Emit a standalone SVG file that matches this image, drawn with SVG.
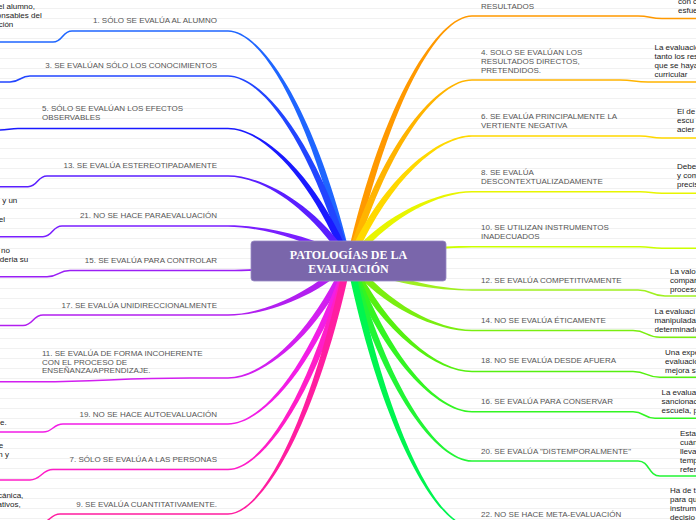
<svg xmlns="http://www.w3.org/2000/svg" width="696" height="520" viewBox="0 0 696 520">
<defs>
<pattern id="grid" width="696" height="10" patternUnits="userSpaceOnUse"><line x1="0" y1="8.5" x2="696" y2="8.5" stroke="#f1f1f1" stroke-width="1"/></pattern>
</defs>
<style>
.lbl{font-family:"Liberation Sans",Arial,sans-serif;font-size:8px;fill:#555}
.leaf{font-family:"Liberation Sans",Arial,sans-serif;font-size:8px;fill:#222}
.end{text-anchor:end}
.ln{fill:none;stroke-width:1.5}
.title{font-family:"Liberation Serif","Times New Roman",serif;font-size:12px;font-weight:bold;fill:#fff;text-anchor:middle}
</style>
<rect width="696" height="520" fill="#fff"/>
<rect width="696" height="520" fill="url(#grid)"/>
<g id="connectors">
<path fill="#1f66ff" d="M228,30.25 C261.6,30.25 316.6,110.7 351.4,260.2 L344.6,261.8 C309.8,112.3 261.6,31.75 228,31.75Z"/>
<path class="ln" stroke="#1f66ff" d="M228,31 L72,31 C62,31 63,42 53,42 L0,42"/>
<path fill="#2245ff" d="M228,75.25 C261.6,75.25 316.6,139.8 351.4,260 L344.6,262 C309.8,141.7 261.6,76.75 228,76.75Z"/>
<path class="ln" stroke="#2245ff" d="M228,76 L30,76 C20,76 20,82 10,82 L0,82"/>
<path fill="#1a1aff" d="M228,127.75 C261.6,127.75 316.4,173.6 351.2,259.7 L344.8,262.3 C310,176.2 261.6,129.25 228,129.25Z"/>
<path class="ln" stroke="#1a1aff" d="M228,128.5 L18,128.5 C10,128.5 8,130 0,130"/>
<path fill="#5a1fff" d="M228,175.25 C261.6,175.25 316.2,203.9 351,259.1 L345,262.9 C310.2,207.6 261.6,176.75 228,176.75Z"/>
<path class="ln" stroke="#5a1fff" d="M228,176 L47,176 C37,176 38,186.7 28,186.7 L0,186.7"/>
<path fill="#7a1fff" d="M228,225.25 C261.6,225.25 315.1,235.3 349.9,258.1 L346.1,263.9 C311.3,241.2 261.6,226.75 228,226.75Z"/>
<path class="ln" stroke="#7a1fff" d="M228,226 L62,226 C52,226 53,236.7 43,236.7 L0,236.7"/>
<path fill="#9a1ff5" d="M228,269.75 C261.6,269.75 312.6,263.75 347.4,257.55 L348.6,264.45 C313.8,270.65 261.6,271.25 228,271.25Z"/>
<path class="ln" stroke="#9a1ff5" d="M228,270.5 L70,270.5 C58,270.5 59,276.7 47,276.7 L0,276.7"/>
<path fill="#b21ff0" d="M228,314.25 C261.6,314.25 310.7,293.6 345.5,258.5 L350.5,263.5 C315.7,298.6 261.6,315.75 228,315.75Z"/>
<path class="ln" stroke="#b21ff0" d="M228,315 L43,315 C33,315 33,325.5 23,325.5 L0,325.5"/>
<path fill="#d21ff0" d="M228,377.25 C261.6,377.25 310,335.6 344.8,259.5 L351.2,262.5 C316.4,338.5 261.6,378.75 228,378.75Z"/>
<path class="ln" stroke="#d21ff0" d="M228,378 L190,378 C120,378 100,381.7 40,381.7 L0,381.7"/>
<path fill="#f21ee6" d="M228,423.25 C261.6,423.25 309.9,365.9 344.7,259.9 L351.3,262.1 C316.5,368 261.6,424.75 228,424.75Z"/>
<path class="ln" stroke="#f21ee6" d="M228,424 L63,424 C53,424 53,432 43,432 L0,432"/>
<path fill="#ff1ec8" d="M228,468.75 C261.6,468.75 309.8,395.6 344.6,260.1 L351.4,261.9 C316.6,397.4 261.6,470.25 228,470.25Z"/>
<path class="ln" stroke="#ff1ec8" d="M228,469.5 L53,469.5 C42,469.5 41,480 30,480 L0,480"/>
<path fill="#ff1ea0" d="M228,513.25 C261.6,513.25 309.8,424.7 344.6,260.3 L351.4,261.7 C316.6,426.2 261.6,514.75 228,514.75Z"/>
<path class="ln" stroke="#ff1ea0" d="M228,514 L60,514 C50,514 50,523 40,523 L0,523"/>

<path fill="#ff9900" d="M472,16.75 C437.8,16.75 388.8,102.5 353.4,261.8 L346.6,260.2 C382,101 437.8,15.25 472,15.25Z"/>
<path class="ln" stroke="#ff9900" d="M472,16 L638,16 C650,16 650,18.5 662,18.5 L696,18.5"/>
<path fill="#ffb400" d="M472,80.75 C437.8,80.75 388.75,144.4 353.35,262 L346.65,260 C382.05,142.3 437.8,79.25 472,79.25Z"/>
<path class="ln" stroke="#ffb400" d="M472,80 L620,80 C634,80 634,82 648,82 L696,82"/>
<path fill="#ffd800" d="M472,136.75 C437.8,136.75 388.6,181.15 353.2,262.4 L346.8,259.6 C382.2,178.35 437.8,135.25 472,135.25Z"/>
<path class="ln" stroke="#ffd800" d="M472,136 L640,136 C651,136 651,138 662,138 L696,138"/>
<path fill="#e8f500" d="M472,192.45 C437.8,192.45 388.15,218.1 352.75,263.2 L347.25,258.8 C382.65,213.8 437.8,190.95 472,190.95Z"/>
<path class="ln" stroke="#e8f500" d="M472,191.7 L640,191.7 C651,191.7 651,193.3 662,193.3 L696,193.3"/>
<path fill="#ccff00" d="M472,247.45 C437.8,247.45 386.3,255.1 350.9,264.4 L349.1,257.6 C384.5,248.3 437.8,245.95 472,245.95Z"/>
<path class="ln" stroke="#ccff00" d="M472,246.7 L640,246.7 C651,246.7 651,248.3 662,248.3 L696,248.3"/>
<path fill="#a0f020" d="M472,290.75 C437.8,290.75 383.75,282.9 348.35,264.1 L351.65,257.9 C387.05,276.8 437.8,289.25 472,289.25Z"/>
<path class="ln" stroke="#a0f020" d="M472,290 L638,290 C652,290 651,296 665,296 L696,296"/>
<path fill="#7aee10" d="M472,331.25 C437.8,331.25 382.6,308.4 347.2,263.2 L352.8,258.8 C388.2,304 437.8,329.75 472,329.75Z"/>
<path class="ln" stroke="#7aee10" d="M472,330.5 L633,330.5 C647,330.5 646,337.3 660,337.3 L696,337.3"/>
<path fill="#55f010" d="M472,372.25 C437.8,372.25 382.3,334.35 346.9,262.55 L353.1,259.45 C388.5,331.25 437.8,370.75 472,370.75Z"/>
<path class="ln" stroke="#55f010" d="M472,371.5 L633,371.5 C647,371.5 646,377.3 660,377.3 L696,377.3"/>
<path fill="#33f522" d="M472,412.45 C437.8,412.45 382.1,360.1 346.7,262.2 L353.3,259.8 C388.7,357.8 437.8,410.95 472,410.95Z"/>
<path class="ln" stroke="#33f522" d="M472,411.7 L633,411.7 C644,411.7 644,418.3 655,418.3 L696,418.3"/>
<path fill="#22f535" d="M472,461.75 C437.8,461.75 382,391.9 346.6,261.9 L353.4,260.1 C388.8,390.1 437.8,460.25 472,460.25Z"/>
<path class="ln" stroke="#22f535" d="M472,461 L638,461 C650,461 648,476 660,476 L696,476"/>
<path fill="#00f550" d="M472,527.75 C437.8,527.75 382,434.6 346.6,261.7 L353.4,260.3 C388.8,433.2 437.8,526.25 472,526.25Z"/>
<path class="ln" stroke="#00f550" d="M472,527 L696,527"/>
</g>

<g id="node-center">
<rect x="251" y="241" width="195" height="40" rx="3" fill="#7a66ab" stroke="#9a8cc6" stroke-width="0.8"/>
<text class="title" x="348.5" y="258.5">PATOLOGÍAS DE LA</text>
<text class="title" x="348.5" y="272.5">EVALUACIÓN</text>
</g>

<g id="node-1"><text class="lbl end" x="217" y="23">1. SÓLO SE EVALÚA AL ALUMNO</text></g>
<g id="node-3"><text class="lbl end" x="217" y="68">3. SE EVALÚAN SÓLO LOS CONOCIMIENTOS</text></g>
<g id="node-5"><text class="lbl" x="42" y="111">5. SÓLO SE EVALÚAN LOS EFECTOS</text><text class="lbl" x="42" y="120">OBSERVABLES</text></g>
<g id="node-13"><text class="lbl end" x="217" y="168">13. SE EVALÚA ESTEREOTIPADAMENTE</text></g>
<g id="node-21"><text class="lbl end" x="217" y="218">21. NO SE HACE PARAEVALUACIÓN</text></g>
<g id="node-15"><text class="lbl end" x="217" y="263">15. SE EVALÚA PARA CONTROLAR</text></g>
<g id="node-17"><text class="lbl end" x="217" y="307.5">17. SE EVALÚA UNIDIRECCIONALMENTE</text></g>
<g id="node-11"><text class="lbl" x="42" y="355.7">11. SE EVALÚA DE FORMA INCOHERENTE</text><text class="lbl" x="42" y="364.5">CON EL PROCESO DE</text><text class="lbl" x="42" y="373.3">ENSEÑANZA/APRENDIZAJE.</text></g>
<g id="node-19"><text class="lbl end" x="217" y="416.7">19. NO SE HACE AUTOEVALUACIÓN</text></g>
<g id="node-7"><text class="lbl end" x="217" y="461.7">7. SÓLO SE EVALÚA A LAS PERSONAS</text></g>
<g id="node-9"><text class="lbl end" x="217" y="506.7">9. SE EVALÚA CUANTITATIVAMENTE.</text></g>

<g id="leaf-left-1"><text class="leaf end" x="35" y="9">el alumno,</text><text class="leaf end" x="41.7" y="18">onsables del</text><text class="leaf end" x="13.3" y="27">ción</text></g>
<g id="leaf-left-21"><text class="leaf end" x="17.3" y="202.7">y un</text><text class="leaf end" x="5" y="221.7">el</text></g>
<g id="leaf-left-15"><text class="leaf end" x="10" y="253.3">no</text><text class="leaf end" x="28.3" y="261.7">deria su</text></g>
<g id="leaf-left-19"><text class="leaf end" x="6.7" y="425.3">e.</text></g>
<g id="leaf-left-7"><text class="leaf end" x="3.3" y="447.7">e</text><text class="leaf end" x="9" y="456.7">n y</text></g>
<g id="leaf-left-9"><text class="leaf end" x="23.3" y="498.3">cánica,</text><text class="leaf end" x="20.7" y="506.7">ativos,</text></g>

<g id="node-2"><text class="lbl" x="481" y="9">RESULTADOS</text></g>
<g id="node-4"><text class="lbl" x="481" y="55">4. SOLO SE EVALÚAN LOS</text><text class="lbl" x="481" y="64">RESULTADOS DIRECTOS,</text><text class="lbl" x="481" y="73">PRETENDIDOS.</text></g>
<g id="node-6"><text class="lbl" x="481" y="119">6. SE EVALÚA PRINCIPALMENTE LA</text><text class="lbl" x="481" y="128">VERTIENTE NEGATIVA</text></g>
<g id="node-8"><text class="lbl" x="481" y="175">8. SE EVALÚA</text><text class="lbl" x="481" y="184">DESCONTEXTUALIZADAMENTE</text></g>
<g id="node-10"><text class="lbl" x="481" y="230">10. SE UTILIZAN INSTRUMENTOS</text><text class="lbl" x="481" y="239">INADECUADOS</text></g>
<g id="node-12"><text class="lbl" x="481" y="282.7">12. SE EVALÚA COMPETITIVAMENTE</text></g>
<g id="node-14"><text class="lbl" x="481" y="323.3">14. NO SE EVALÚA ÉTICAMENTE</text></g>
<g id="node-18"><text class="lbl" x="481" y="363.3">18. NO SE EVALÚA DESDE AFUERA</text></g>
<g id="node-16"><text class="lbl" x="481" y="404">16. SE EVALÚA PARA CONSERVAR</text></g>
<g id="node-20"><text class="lbl" x="481" y="454">20. SE EVALÚA "DISTEMPORALMENTE"</text></g>
<g id="node-22"><text class="lbl" x="481" y="516.7">22. NO SE HACE META-EVALUACIÓN</text></g>

<g id="leaf-right-2"><text class="leaf" x="678" y="4">con c</text><text class="leaf" x="678" y="12.7">esfue</text></g>
<g id="leaf-right-4"><text class="leaf" x="654.5" y="49.5">La evaluació</text><text class="leaf" x="654.5" y="58.5">tanto los res</text><text class="leaf" x="654.5" y="67.5">que se haya</text><text class="leaf" x="654.5" y="76.5">curricular</text></g>
<g id="leaf-right-6"><text class="leaf" x="677" y="114">El de</text><text class="leaf" x="677" y="123">escu</text><text class="leaf" x="677" y="132">acier</text></g>
<g id="leaf-right-8"><text class="leaf" x="677" y="169">Debe</text><text class="leaf" x="677" y="178">y com</text><text class="leaf" x="677" y="187">precis</text></g>
<g id="leaf-right-12"><text class="leaf" x="670" y="274">La valo</text><text class="leaf" x="670" y="283">compar</text><text class="leaf" x="670" y="292">proceso</text></g>
<g id="leaf-right-14"><text class="leaf" x="654.5" y="314">La evaluaci</text><text class="leaf" x="654.5" y="323">manipulada</text><text class="leaf" x="654.5" y="332">determinado</text></g>
<g id="leaf-right-18"><text class="leaf" x="665" y="354.7">Una expe</text><text class="leaf" x="665" y="363.7">evaluació</text><text class="leaf" x="665" y="372.7">mejora s</text></g>
<g id="leaf-right-16"><text class="leaf" x="661.5" y="394.7">La evalua</text><text class="leaf" x="661.5" y="403.7">sancionac</text><text class="leaf" x="661.5" y="412.7">escuela, p</text></g>
<g id="leaf-right-20"><text class="leaf" x="680" y="435.7">Esta</text><text class="leaf" x="680" y="444.7">cuán</text><text class="leaf" x="680" y="453.7">lleva</text><text class="leaf" x="680" y="462.7">temp</text><text class="leaf" x="680" y="471.7">refer</text></g>
<g id="leaf-right-22"><text class="leaf" x="670" y="493">Ha de t</text><text class="leaf" x="670" y="502">para qu</text><text class="leaf" x="670" y="511">instrum</text><text class="leaf" x="670" y="520">decisio</text></g>
</svg>
